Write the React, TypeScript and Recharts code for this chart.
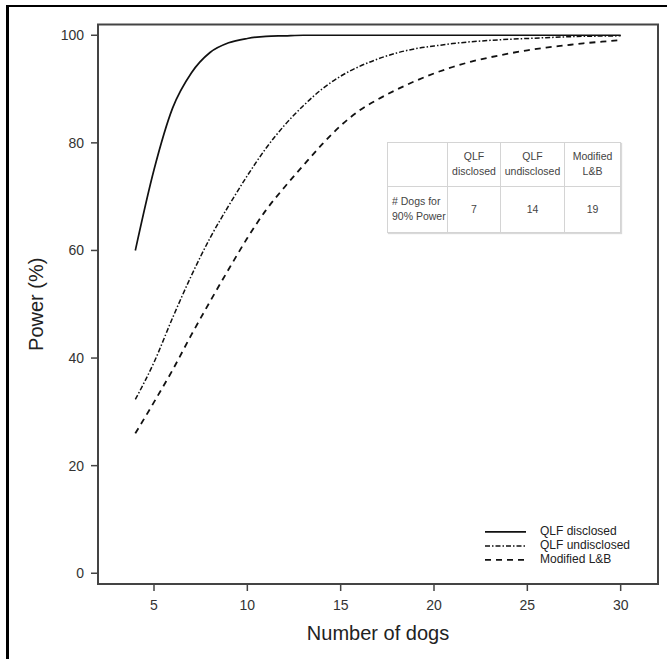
import React from 'react';
import { LineChart, Line, XAxis, YAxis, ReferenceArea, Legend } from 'recharts';

const dogs = [4, 5, 6, 7, 8, 9, 10, 11, 12, 13, 14, 15, 16, 17, 18, 19, 20, 21, 22, 23, 24, 25, 26, 27, 28, 29, 30];
const qlfDisclosed = [60, 75, 86.5, 93, 96.8, 98.6, 99.4, 99.8, 99.9, 100, 100, 100, 100, 100, 100, 100, 100, 100, 100, 100, 100, 100, 100, 100, 100, 100, 100];
const qlfUndisclosed = [32.3, 39.2, 47.5, 55.3, 62.3, 68.3, 73.9, 79, 83.3, 86.9, 90, 92.4, 94.2, 95.6, 96.7, 97.5, 98, 98.45, 98.8, 99.05, 99.25, 99.4, 99.55, 99.7, 99.8, 99.85, 99.9];
const modifiedLB = [26, 31.8, 37.8, 44.3, 50.5, 56.5, 62.3, 67.5, 71.8, 75.8, 79.7, 83.2, 86, 88.1, 89.9, 91.5, 92.9, 94.1, 95.1, 95.9, 96.6, 97.2, 97.7, 98.1, 98.5, 98.8, 99.1];

const xTicks = [5, 10, 15, 20, 25, 30];
const yTicks = [0, 20, 40, 60, 80, 100];

const tableHeaders = ['', 'QLF\ndisclosed', 'QLF\nundisclosed', 'Modified\nL&B'];
const tableRowLabel = '# Dogs for\n90% Power';
const tableValues = ['7', '14', '19'];

const series = [
  { key: 'qlfDisclosed', name: 'QLF disclosed', dash: undefined as string | undefined, width: 1.7 },
  { key: 'qlfUndisclosed', name: 'QLF undisclosed', dash: '5 2 1.5 2', width: 1.5 },
  { key: 'modifiedLB', name: 'Modified L&B', dash: '6 5', width: 1.8 },
];

const data = dogs.map((d, i) => ({
  dogs: d,
  qlfDisclosed: qlfDisclosed[i],
  qlfUndisclosed: qlfUndisclosed[i],
  modifiedLB: modifiedLB[i],
}));

const FONT = '"Liberation Sans", Arial, Helvetica, sans-serif';

const YLabel = (props: any) => {
  const vb = props.viewBox || {};
  const cx = (vb.x ?? 0) + 36;
  const cy = (vb.y ?? 0) + (vb.height ?? 0) / 2;
  return (
    <text
      x={cx}
      y={cy}
      transform={`rotate(-90, ${cx}, ${cy})`}
      textAnchor="middle"
      dominantBaseline="central"
      fontSize={20}
      fontFamily={FONT}
      fill="#222"
    >
      Power (%)
    </text>
  );
};

const XLabel = (props: any) => {
  const vb = props.viewBox || {};
  const cx = (vb.x ?? 0) + (vb.width ?? 0) / 2;
  const cy = (vb.y ?? 0) + 56;
  return (
    <text x={cx} y={cy} textAnchor="middle" fontSize={20} fontFamily={FONT} fill="#222">
      Number of dogs
    </text>
  );
};

const ROW_H = 13.8;

const LegendContent = () => (
  <div style={{ fontFamily: FONT, fontSize: 12, color: '#222' }}>
    {series.map((s) => (
      <div key={s.key} style={{ display: 'flex', alignItems: 'center', height: ROW_H }}>
        <svg width={41} height={ROW_H} style={{ display: 'block' }}>
          <line x1={0} y1={ROW_H / 2} x2={41} y2={ROW_H / 2} stroke="#111" strokeWidth={s.width} strokeDasharray={s.dash} />
        </svg>
        <span style={{ marginLeft: 14, lineHeight: `${ROW_H}px`, whiteSpace: 'nowrap' }}>{s.name}</span>
      </div>
    ))}
  </div>
);

const colWidths = [60, 53, 64, 56];
const cellStyle = (w: number, h: number): React.CSSProperties => ({
  width: w,
  minWidth: w,
  maxWidth: w,
  height: h,
  border: '1px solid #d4d4d4',
  textAlign: 'center',
  verticalAlign: 'middle',
  padding: 0,
  whiteSpace: 'pre',
  lineHeight: '15.5px',
  boxSizing: 'border-box',
});

export default function App() {
  return (
    <div style={{ position: 'absolute', left: 0, top: 0, width: 667, height: 659, background: '#fff', overflow: 'hidden' }}>
      <div
        style={{
          position: 'absolute',
          left: 6,
          top: 5,
          width: 661,
          height: 654,
          borderLeft: '3px solid #000',
          borderTop: '2.5px solid #000',
          boxSizing: 'border-box',
        }}
      />
      <div style={{ position: 'absolute', left: 0, top: 0 }}>
        <LineChart width={667} height={659} data={data} margin={{ top: 24.5, right: 9, bottom: 0, left: 0 }}>
          <XAxis
            dataKey="dogs"
            type="number"
            domain={[2, 32]}
            ticks={xTicks}
            height={75}
            axisLine={false}
            tickLine={{ stroke: '#444', strokeWidth: 1.5 }}
            tickSize={7}
            tickMargin={9}
            tick={{ fontSize: 14, fontFamily: FONT, fill: '#333' }}
            label={<XLabel />}
          />
          <YAxis
            type="number"
            domain={[-2, 102]}
            ticks={yTicks}
            width={98}
            axisLine={false}
            tickLine={{ stroke: '#444', strokeWidth: 1.5 }}
            tickSize={7}
            tickMargin={7}
            tick={{ fontSize: 14, fontFamily: FONT, fill: '#333' }}
            label={<YLabel />}
          />
          <ReferenceArea x1={2} x2={32} y1={-2} y2={102} fill="none" stroke="#444" strokeWidth={2} />
          {series.map((s) => (
            <Line
              key={s.key}
              dataKey={s.key}
              name={s.name}
              type="monotone"
              stroke="#111"
              strokeWidth={s.width}
              strokeDasharray={s.dash}
              dot={false}
              activeDot={false}
              isAnimationActive={false}
            />
          ))}
          <Legend
            layout="vertical"
            align="center"
            verticalAlign="middle"
            content={<LegendContent />}
            wrapperStyle={{ left: 485, top: 525, width: 'auto' }}
          />
        </LineChart>
      </div>
      <table
        style={{
          position: 'absolute',
          left: 387,
          top: 141.5,
          borderCollapse: 'collapse',
          tableLayout: 'fixed',
          fontFamily: FONT,
          fontSize: 10.5,
          color: '#444',
          background: '#fff',
          boxShadow: '1px 1px 1px rgba(0,0,0,0.15)',
        }}
      >
        <tbody>
          <tr>
            {tableHeaders.map((h, i) => (
              <td key={i} style={cellStyle(colWidths[i], 44.5)}>{h}</td>
            ))}
          </tr>
          <tr>
            <td style={{ ...cellStyle(colWidths[0], 45.5), textAlign: 'left', paddingLeft: 4 }}>{tableRowLabel}</td>
            {tableValues.map((v, i) => (
              <td key={i} style={cellStyle(colWidths[i + 1], 45.5)}>{v}</td>
            ))}
          </tr>
        </tbody>
      </table>
    </div>
  );
}
